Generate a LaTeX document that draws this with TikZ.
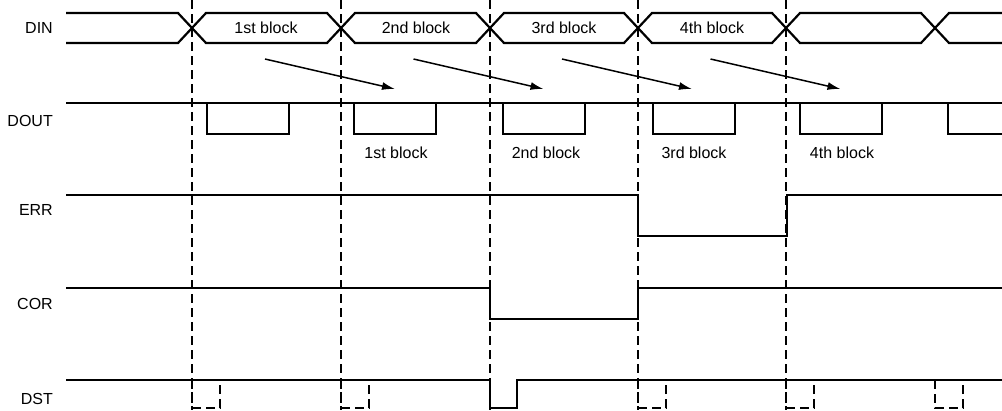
\documentclass[tikz,border=0pt]{standalone}
\usepackage{fontspec}
\setmainfont{Liberation Sans}
\usetikzlibrary{arrows.meta}
\begin{document}
\begin{tikzpicture}[x=1pt,y=-1pt,
  sig/.style={line width=2.2pt,line join=miter},
  grid/.style={line width=1.4pt,dash pattern=on 9pt off 5pt},
  dpulse/.style={line width=1.3pt,dash pattern=on 9pt off 5pt},
  lbl/.style={anchor=east,inner sep=0pt,font=\fontsize{16}{18}\selectfont},
  blk/.style={inner sep=0pt,font=\fontsize{16}{18}\selectfont},
  flow/.style={line width=1.5pt,-{Latex[length=13pt,width=8pt]}}]
\useasboundingbox (0,0) rectangle (1002,410);
% vertical dashed time lines
\foreach \t in {192,341,490,638,786}{
  \draw[grid] (\t,0) -- (\t,410);
}
% signal names
\node[lbl] (ldin)  at (53,28)  {DIN};
\node[lbl] (ldout) at (53,121) {DOUT};
\node[lbl] (lerr)  at (53,210) {ERR};
\node[lbl] (lcor)  at (53,304) {COR};
\node[lbl] (ldst)  at (53,399) {DST};
% DIN bus
\draw[sig] (66,13) -- (178,13) -- (192,28) -- (178,43) -- (66,43);
\foreach \a/\b in {192/341,341/490,490/638,638/786,786/935}{
  \draw[sig] (\a,28) -- (\a+14,13) -- (\b-14,13) -- (\b,28) -- (\b-14,43) -- (\a+14,43) -- cycle;
}
\draw[sig] (1002,13) -- (949,13) -- (935,28) -- (949,43) -- (1002,43);
\node[blk] (d1) at (266,28) {1st block};
\node[blk] (d2) at (416,28) {2nd block};
\node[blk] (d3) at (564,28) {3rd block};
\node[blk] (d4) at (712,28) {4th block};
% DOUT
\draw[sig] (66,103) -- (1002,103);
\foreach \s in {207,354,503,653,800}{
  \draw[sig] (\s,103) -- (\s,134) -- (\s+82,134) -- (\s+82,103);
}
\draw[sig] (948,103) -- (948,134) -- (1002,134);
\node[blk] (o1) at (396,153) {1st block};
\node[blk] (o2) at (546,153) {2nd block};
\node[blk] (o3) at (694,153) {3rd block};
\node[blk] (o4) at (842,153) {4th block};
% flow arrows
\foreach \k in {0,1,2,3}{
  \coordinate (fs\k) at (265+148.5*\k,59);
  \coordinate (fe\k) at (395+148.5*\k,89);
  \draw[flow] (fs\k) -- (fe\k);
}
% ERR
\draw[sig] (66,195) -- (638,195) -- (638,236) -- (787,236) -- (787,195) -- (1002,195);
% COR
\draw[sig] (66,288) -- (490,288) -- (490,319) -- (638,319) -- (638,288) -- (1002,288);
% DST
\draw[sig] (66,380) -- (490,380) -- (490,408) -- (517,408) -- (517,380) -- (1002,380);
\foreach \p in {192,341,638,786,935}{
  \draw[dpulse] (\p,380) -- (\p,408) -- (\p+28,408) -- (\p+28,382);
}
\end{tikzpicture}
\end{document}
